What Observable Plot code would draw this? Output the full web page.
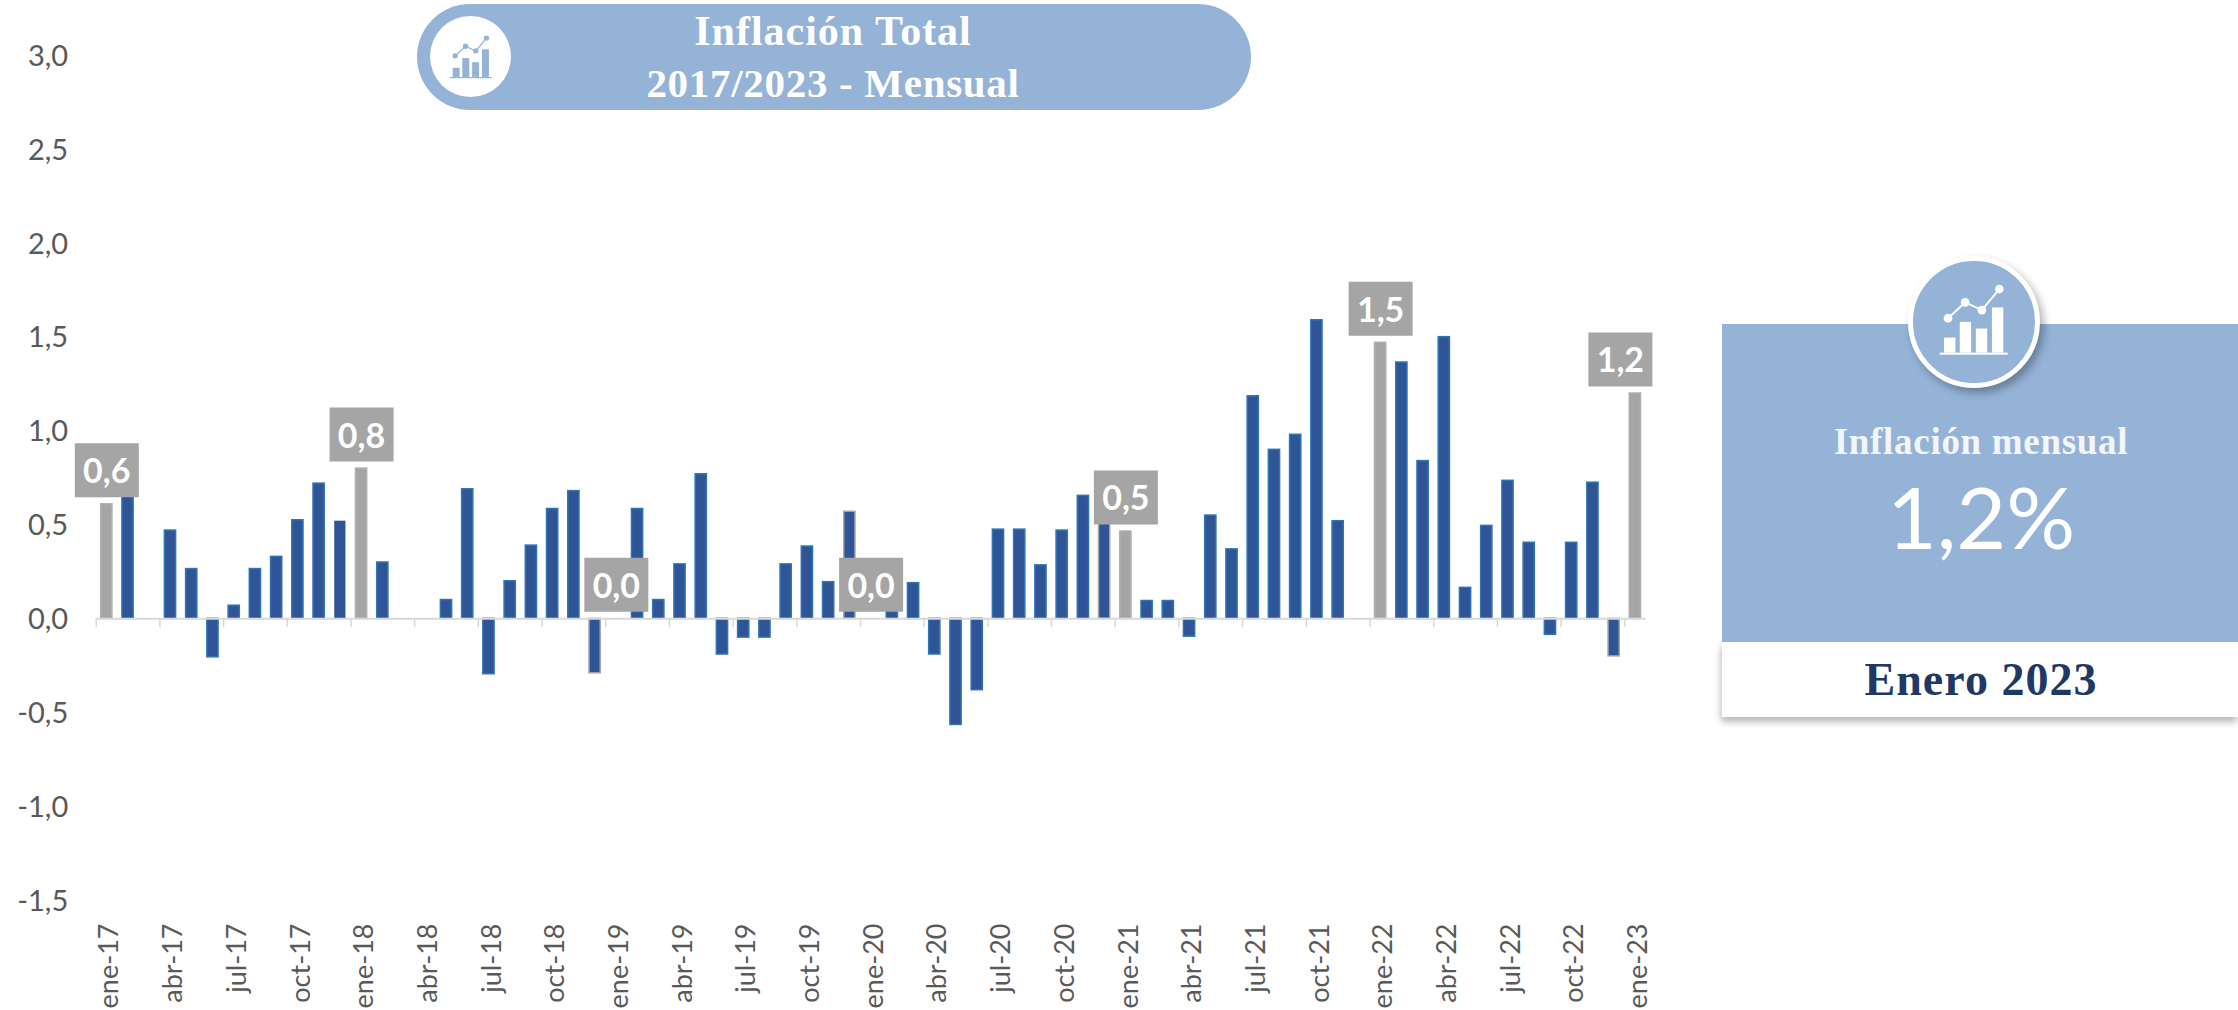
<!DOCTYPE html>
<html lang="es">
<head>
<meta charset="utf-8">
<script src="https://cdn.jsdelivr.net/npm/d3@7"></script>
<script src="https://cdn.jsdelivr.net/npm/@observablehq/plot@0.6"></script>
<style>
  html, body { margin: 0; padding: 0; background: #fff; }
  #page { position: relative; width: 2238px; height: 1010px; overflow: hidden; }
  #chart { position: absolute; left: 0; top: 0; }
  .abs { position: absolute; }
  .center { position: absolute; transform: translate(-50%, -50%); white-space: nowrap; }
  .serif { font-family: "Liberation Serif", serif; font-weight: 700; }
  #pill { left: 417px; top: 4px; width: 834px; height: 106px; border-radius: 53px; background: #95b3d7; }
  #pillCircle { left: 430px; top: 16px; width: 81px; height: 81px; border-radius: 50%; background: #fff; }
  #panelBlue { left: 1722px; top: 324px; width: 516px; height: 318px; background: #95b3d7; }
  #panelWhite { left: 1722px; top: 642px; width: 516px; height: 75px; background: #fff; box-shadow: -1px 5px 7px rgba(0,0,0,.28); }
  #panelCircle { left: 1908px; top: 256px; width: 122px; height: 122px; border-radius: 50%; background: #95b3d7; border: 5px solid #fff; box-shadow: 4px 5px 8px rgba(0,0,0,.3); }
</style>
</head>
<body>
<div id="page">
  <div id="chart"></div>
  <div class="abs" id="pill"></div>
  <div class="abs" id="pillCircle"></div>
  <div class="center serif" style="left:833px;top:31px;font-size:42px;color:#fff;letter-spacing:1px">Inflación Total</div>
  <div class="center serif" style="left:833px;top:83px;font-size:41px;color:#fff;letter-spacing:.7px">2017/2023 - Mensual</div>
  <div class="abs" id="panelWhite"></div>
  <div class="abs" id="panelBlue"></div>
  <div class="abs" id="panelCircle"></div>
  <div class="center serif" style="left:1981px;top:441px;font-size:37px;color:#f2f5fa;letter-spacing:.7px">Inflación mensual</div>
  <div class="center" style="left:1981px;top:515px;font-family:Lato,sans-serif;font-weight:400;font-size:86px;color:#fff">1,2%</div>
  <div class="center serif" style="left:1981px;top:679px;font-size:46px;color:#1f3864;letter-spacing:1px">Enero 2023</div>
</div>
<script>
const months = [
  "ene-17","feb-17","mar-17","abr-17","may-17","jun-17","jul-17","ago-17","sep-17","oct-17","nov-17","dic-17",
  "ene-18","feb-18","mar-18","abr-18","may-18","jun-18","jul-18","ago-18","sep-18","oct-18","nov-18","dic-18",
  "ene-19","feb-19","mar-19","abr-19","may-19","jun-19","jul-19","ago-19","sep-19","oct-19","nov-19","dic-19",
  "ene-20","feb-20","mar-20","abr-20","may-20","jun-20","jul-20","ago-20","sep-20","oct-20","nov-20","dic-20",
  "ene-21","feb-21","mar-21","abr-21","may-21","jun-21","jul-21","ago-21","sep-21","oct-21","nov-21","dic-21",
  "ene-22","feb-22","mar-22","abr-22","may-22","jun-22","jul-22","ago-22","sep-22","oct-22","nov-22","dic-22",
  "ene-23"
];
const inflation = [
  0.61,0.67,0.00,0.47,0.265,-0.205,0.07,0.265,0.33,0.525,0.72,0.52,
  0.80,0.30,0.00,0.00,0.10,0.69,-0.295,0.20,0.39,0.585,0.68,-0.29,
  0.00,0.585,0.10,0.29,0.77,-0.19,-0.10,-0.10,0.29,0.385,0.195,0.57,
  0.00,0.09,0.19,-0.19,-0.565,-0.38,0.475,0.475,0.285,0.47,0.655,0.55,
  0.465,0.095,0.095,-0.095,0.55,0.37,1.185,0.90,0.98,1.59,0.52,0.00,
  1.47,1.365,0.84,1.50,0.165,0.495,0.735,0.405,-0.085,0.405,0.725,-0.20,
  1.20
];
const januaries = ["ene-17","ene-18","ene-19","ene-20","ene-21","ene-22","ene-23"];
const greyEdged = ["dic-18","dic-19","dic-20","dic-22"];
const plainEdged = ["dic-17"];
const quarterTicks = months.filter((m, i) => i % 3 === 0);
const yTicks = [-1.5,-1,-0.5,0,0.5,1,1.5,2,2.5,3];

const rows = months.map((month, i) => ({month, value: inflation[i]}));
const labelled = rows.filter(d => januaries.includes(d.month) && d.month !== "ene-23");
const lastLabel = rows.filter(d => d.month === "ene-23");
const comma = d => d3.format(".1f")(d).replace(".", ",").replace("\u2212", "-");

const Y_UNIT = 188;               // px per percentage point on the y scale
const labelBox = {draw(ctx) { ctx.rect(-32, -27, 64, 54); }};
const labelMarks = (data, dx) => [
  Plot.dot(data, {x: "month", y: "value", dx, dy: -34, symbol: labelBox, fill: "#a5a5a5", stroke: "none"}),
  Plot.text(data, {x: "month", y: "value", dx, dy: -32, text: d => comma(d.value), fill: "#fff", fontSize: 34, fontWeight: 700})
];

const chart = Plot.plot({
  width: 2238, height: 1010,
  marginLeft: 95.7, marginRight: 592.5, marginTop: 55, marginBottom: 110,
  style: {background: "transparent", fontFamily: "Lato, sans-serif"},
  x: {type: "band", domain: months, paddingInner: 0, paddingOuter: 0, round: false, label: null},
  y: {domain: [-1.5, 3], label: null},
  marks: [
    Plot.barY(rows, {
      x: "month", y: "value", insetLeft: 5, insetRight: 5,
      fill: d => januaries.includes(d.month) ? "#a5a5a5" : "#2f5597",
      stroke: d => januaries.includes(d.month) ? "#b0b0b0"
        : greyEdged.includes(d.month) ? "#a5a5a5"
        : plainEdged.includes(d.month) ? "none" : "#2e75b6",
      strokeWidth: 1.5
    }),
    Plot.ruleY([0], {stroke: "#d9d9d9", strokeWidth: 2}),
    Plot.ruleX(quarterTicks, {x: d => d, y1: 0, y2: -9 / Y_UNIT, dx: -10.6, stroke: "#d9d9d9", strokeWidth: 1.5}),
    Plot.axisY({ticks: yTicks, tickSize: 0, tickPadding: 0, dx: -28, dy: 1, tickFormat: comma, fontSize: 29, color: "#595959", label: null}),
    Plot.axisX({ticks: quarterTicks, tickSize: 0, tickPadding: 23, tickRotate: -90, dx: 3, fontSize: 27, color: "#595959", label: null}),
    labelMarks(labelled, 0),
    labelMarks(lastLabel, -15)
  ]
});
document.getElementById("chart").appendChild(chart);

// decorative chart pictogram used in the two badges
function pictogram(fg, size, top) {
  return `<svg xmlns="http://www.w3.org/2000/svg" width="${size}" height="${size}" viewBox="0 0 205 215" style="position:absolute;left:50%;top:${top}%;transform:translate(-50%,-50%)">
    <g fill="${fg}">
      <rect x="13" y="160" width="34" height="45"/><rect x="60" y="113" width="34" height="92"/>
      <rect x="108" y="133" width="34" height="72"/><rect x="156" y="70" width="34" height="135"/>
      <rect x="0" y="205" width="203" height="6"/>
      <circle cx="25" cy="102" r="13"/><circle cx="76" cy="55" r="13"/><circle cx="126" cy="78" r="13"/><circle cx="178" cy="15" r="13"/>
    </g>
    <polyline points="25,102 76,55 126,78 178,15" fill="none" stroke="${fg}" stroke-width="6"/>
  </svg>`;
}
document.getElementById("pillCircle").innerHTML = pictogram("#95b3d7", 44, 50);
document.getElementById("panelCircle").innerHTML = pictogram("#fff", 72, 48);
</script>
</body>
</html>
